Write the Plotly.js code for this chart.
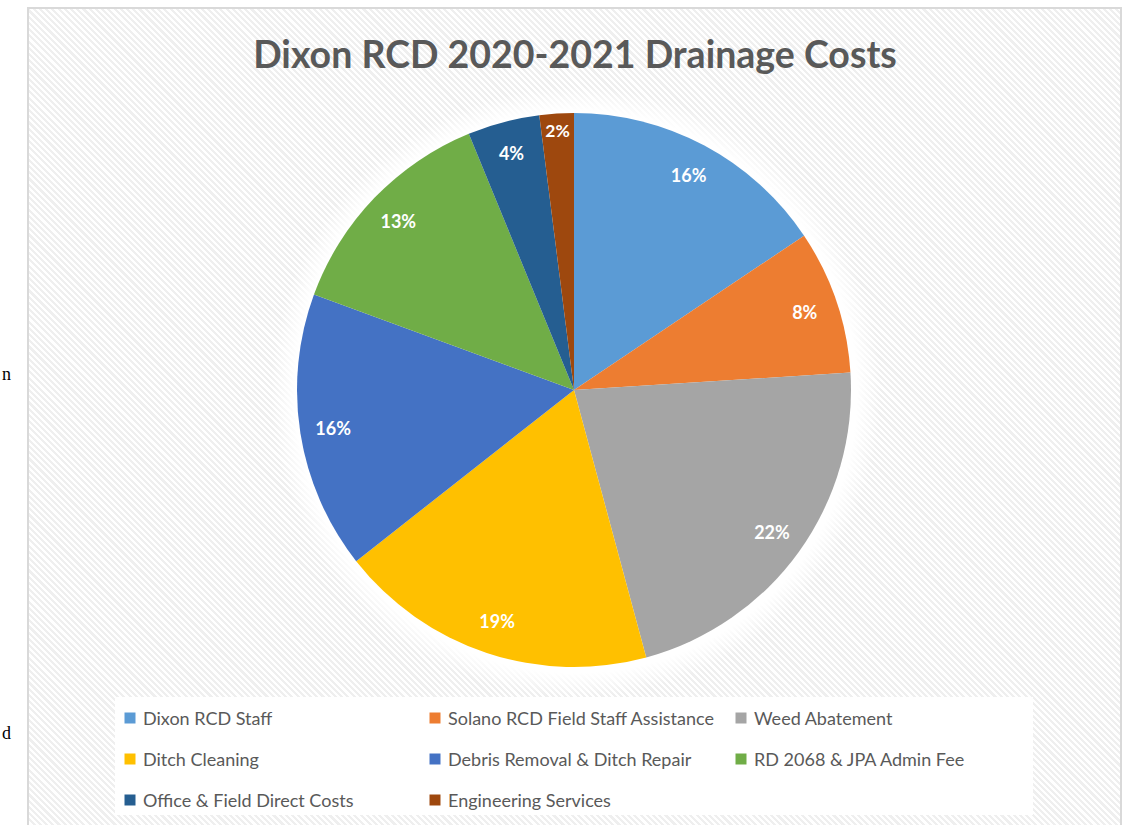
<!DOCTYPE html>
<html>
<head>
<meta charset="utf-8">
<script src="https://cdn.plot.ly/plotly-3.0.1.min.js"></script>
<style>
html,body{margin:0;padding:0;background:#ffffff;}
#wrap{position:relative;width:1123px;height:825px;overflow:hidden;}
#bg{position:absolute;left:27px;top:7px;width:1091px;height:840px;border:2px solid #d9d9d9;
  background:
    radial-gradient(circle at 547px 383px, rgba(255,255,255,1) 0px, rgba(255,255,255,1) 281px, rgba(255,255,255,0) 305px),
    repeating-linear-gradient(45deg,#ffffff 0px,#ffffff 2.2px,#efefef 2.2px,#efefef 4.4px);}
#chart{position:absolute;left:0;top:0;width:1123px;height:825px;}
</style>
</head>
<body>
<div id="wrap"><div id="bg"></div><div id="chart"></div></div>
<script>
// ---- data ----
const titleText = 'Dixon RCD 2020-2021 Drainage Costs';
const labels = [
  'Dixon RCD Staff',
  'Solano RCD Field Staff Assistance',
  'Weed Abatement',
  'Ditch Cleaning',
  'Debris Removal & Ditch Repair',
  'RD 2068 & JPA Admin Fee',
  'Office & Field Direct Costs',
  'Engineering Services'
];
const shares = [15.6, 8.4, 21.8, 18.6, 16.2, 13.2, 4.2, 2.0];
const colors = ['#5B9BD5','#ED7D31','#A5A5A5','#FFC000','#4472C4','#70AD47','#255E91','#9E480E'];
const strayText = ['n', 'd'];

// ---- layout helpers ----
const W = 1123, H = 825;
const px = x => x / W;
const py = y => 1 - y / H;
const FONT = 'Lato, "Open Sans", sans-serif';
const GREY = '#595959';
const pieDomain = {x: [px(297), px(851)], y: [py(667), py(113)]};

// filled slices
const slices = {
  type: 'pie',
  labels: labels,
  values: shares,
  sort: false,
  direction: 'clockwise',
  rotation: 0,
  marker: {colors: colors, line: {width: 0}},
  textinfo: 'none',
  hoverinfo: 'label+percent',
  domain: pieDomain,
  showlegend: false
};
// transparent ring carrying the percentage labels near the rim
const ringLabels = {
  type: 'pie',
  labels: labels,
  values: shares,
  sort: false,
  direction: 'clockwise',
  rotation: 0,
  hole: 0.76,
  marker: {colors: labels.map(() => 'rgba(0,0,0,0)'), line: {width: 0}},
  texttemplate: '%{percent:.0%}',
  textposition: 'inside',
  insidetextorientation: 'horizontal',
  textfont: {family: FONT, size: 18, color: '#ffffff', weight: 'bold'},
  hoverinfo: 'skip',
  domain: pieDomain,
  showlegend: false
};

// manual legend (3 columns)
const shapes = [{
  type: 'rect', xref: 'paper', yref: 'paper',
  x0: px(115), x1: px(1033), y0: py(815), y1: py(697),
  fillcolor: '#ffffff', line: {width: 0}, layer: 'below'
}];
const annotations = [];
const colX = [130, 435, 741];
const rowY = [718, 759, 800];
labels.forEach((lab, i) => {
  const cx = colX[i % 3], cy = rowY[Math.floor(i / 3)];
  shapes.push({
    type: 'rect', xref: 'paper', yref: 'paper',
    x0: px(cx - 5.5), x1: px(cx + 5.5), y0: py(cy + 5.5), y1: py(cy - 5.5),
    fillcolor: colors[i], line: {width: 0}
  });
  annotations.push({
    xref: 'paper', yref: 'paper', x: px(cx + 11), y: py(cy),
    xanchor: 'left', yanchor: 'middle', showarrow: false,
    text: lab, font: {family: FONT, size: 18, color: GREY}
  });
});
// stray page text at the left edge
annotations.push({xref:'paper', yref:'paper', x: 0, y: py(374), xanchor:'left', yanchor:'middle',
  showarrow:false, text: strayText[0], font:{family:'"Liberation Serif", serif', size:18, color:'#000'}});
annotations.push({xref:'paper', yref:'paper', x: 0, y: py(733), xanchor:'left', yanchor:'middle',
  showarrow:false, text: strayText[1], font:{family:'"Liberation Serif", serif', size:18, color:'#000'}});

const layout = {
  width: W, height: H,
  margin: {l: 0, r: 0, t: 0, b: 0},
  paper_bgcolor: 'rgba(0,0,0,0)',
  plot_bgcolor: 'rgba(0,0,0,0)',
  showlegend: false,
  title: {
    text: titleText, x: px(575), xanchor: 'center', y: py(55), yanchor: 'middle',
    font: {family: FONT, size: 37.5, color: GREY, weight: 'bold'}
  },
  shapes: shapes,
  annotations: annotations
};

Plotly.newPlot('chart', [slices, ringLabels], layout, {displayModeBar: false, staticPlot: true});
</script>
</body>
</html>
